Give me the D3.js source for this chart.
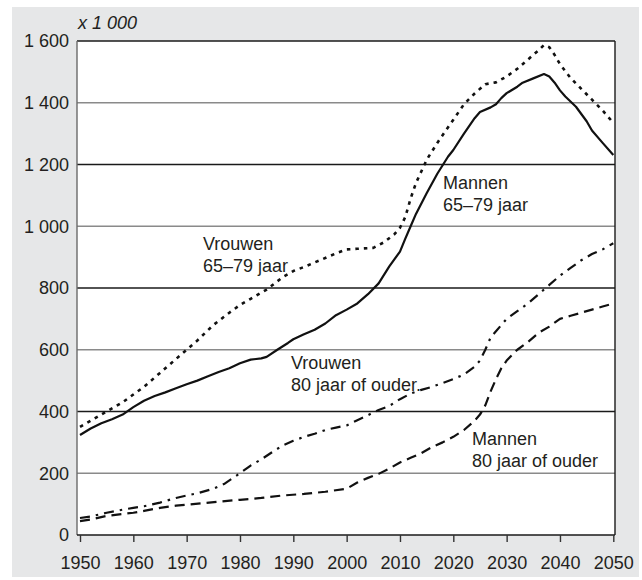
<!DOCTYPE html>
<html>
<head>
<meta charset="utf-8">
<script src="https://cdn.jsdelivr.net/npm/d3@7"></script>
<style>
  html, body { margin: 0; padding: 0; background: #ffffff; }
  svg { display: block; }
  text { font-family: "Liberation Sans", Arial, Helvetica, sans-serif; fill: #231f20; }
</style>
</head>
<body>
<svg id="chart" width="642" height="580"></svg>
<script>
// ---------- data ----------
const xTicks = [1950, 1960, 1970, 1980, 1990, 2000, 2010, 2020, 2030, 2040, 2050];
const yTicks = [0, 200, 400, 600, 800, 1000, 1200, 1400, 1600];
const unitLabel = "x 1 000";

const vrouwen6579Years = [1950,1952,1955,1958,1960,1962,1965,1968,1970,1972,1975,1978,1980,1982,1985,1988,1990,1992,1995,1998,2000,2002,2005,2007,2009,2010,2011,2012,2013,2015,2017,2020,2022,2024,2026,2028,2030,2032,2034,2036,2037,2038,2039,2040,2042,2044,2046,2048,2050];
const vrouwen6579 =      [350, 370, 400, 430, 455, 480, 525, 570, 600, 630, 680, 720, 745, 765, 795, 835, 855, 868, 890, 912, 925, 927, 930, 948, 975, 995,1030,1090,1140,1215,1270,1345,1395,1430,1460,1466,1485,1510,1540,1570,1587,1580,1555,1525,1480,1445,1410,1375,1335];

const mannen6579Years = [1950,1952,1954,1956,1958,1960,1962,1964,1966,1968,1970,1972,1974,1976,1978,1980,1982,1984,1985,1987,1989,1990,1992,1994,1996,1998,2000,2002,2004,2006,2008,2010,2011,2012,2013,2015,2017,2019,2020,2022,2024,2025,2027,2028,2029,2030,2032,2033,2035,2037,2038,2039,2040,2041,2043,2045,2046,2048,2050];
const mannen6579 =      [324, 345, 362, 375, 390, 414, 435, 450, 462, 475, 488, 500, 514, 528, 540, 556, 568, 572, 577, 600, 622, 634, 650, 665, 685, 712, 730, 750, 780, 815, 870, 918, 960,1000,1040,1107,1170,1225,1247,1300,1350,1370,1385,1395,1415,1431,1452,1465,1479,1493,1485,1465,1440,1420,1387,1340,1310,1270,1231];

const vrouwen80Years = [1950,1952,1955,1958,1960,1962,1965,1968,1970,1972,1975,1977,1980,1982,1984,1986,1988,1990,1992,1994,1996,1998,2000,2002,2004,2006,2008,2010,2012,2014,2016,2018,2020,2022,2024,2025,2026,2027,2028,2030,2032,2034,2036,2038,2040,2042,2044,2046,2048,2050];
const vrouwen80 =      [ 55,  60,  72,  82,  88,  93, 105, 120, 128, 135, 150, 165, 200, 225, 245, 268, 290, 305, 318, 328, 340, 348, 355, 372, 388, 405, 418, 440, 458, 470, 480, 492, 505, 520, 545, 565, 600, 640, 660, 700, 725, 750, 780, 810, 840, 865, 890, 910, 925, 945];

const mannen80Years = [1950,1952,1955,1958,1960,1962,1965,1968,1970,1973,1976,1980,1984,1988,1992,1996,2000,2002,2004,2006,2008,2010,2012,2014,2016,2018,2020,2022,2024,2025,2026,2027,2028,2029,2030,2032,2034,2036,2038,2040,2042,2044,2046,2048,2050];
const mannen80 =      [ 45,  50,  62,  68,  72,  78,  88,  95,  98, 103, 108, 114, 120, 128, 133, 140, 150, 170, 185, 198, 215, 235, 250, 265, 285, 300, 318, 340, 370, 390, 420, 465, 505, 540, 565, 600, 625, 655, 675, 700, 710, 720, 730, 740, 750];

const seriesNames = ["Vrouwen 65–79 jaar", "Mannen 65–79 jaar", "Vrouwen 80 jaar of ouder", "Mannen 80 jaar of ouder"];

// ---------- layout ----------
const svg = d3.select("#chart");
const plot = { left: 77, right: 615, top: 41, bottom: 535 };

svg.append("rect").attr("x", 12).attr("y", 7).attr("width", 627).attr("height", 570).attr("fill", "#e6e7e8");
svg.append("rect").attr("x", plot.left).attr("y", plot.top)
   .attr("width", plot.right - plot.left).attr("height", plot.bottom - plot.top).attr("fill", "#ffffff");

const x = d3.scaleLinear().domain([1950, 2050]).range([80, 613.3]);
const y = d3.scaleLinear().domain([0, 1600]).range([plot.bottom, plot.top]);

const nl = d3.formatLocale({ decimal: ",", thousands: " ", grouping: [3], currency: ["", ""] });
const fmt = nl.format(",");

// gridlines (alternating gray / black)
const grid = svg.append("g");
yTicks.filter(v => v > 0 && v < 1600).forEach(v => {
  grid.append("line")
    .attr("x1", plot.left).attr("x2", plot.right)
    .attr("y1", y(v)).attr("y2", y(v))
    .attr("stroke", (v / 200) % 2 === 1 ? "#8a8a8a" : "#1a1a1a")
    .attr("stroke-width", 1.4);
});

// border
svg.append("line").attr("x1", plot.left).attr("x2", plot.right).attr("y1", plot.top).attr("y2", plot.top)
   .attr("stroke", "#1a1a1a").attr("stroke-width", 1.4);
svg.append("line").attr("x1", plot.right).attr("x2", plot.right).attr("y1", plot.top).attr("y2", plot.bottom)
   .attr("stroke", "#1a1a1a").attr("stroke-width", 1.4);
svg.append("line").attr("x1", plot.left).attr("x2", plot.left).attr("y1", plot.top).attr("y2", plot.bottom)
   .attr("stroke", "#6a6a6a").attr("stroke-width", 1.4);
svg.append("line").attr("x1", plot.left).attr("x2", plot.right).attr("y1", plot.bottom).attr("y2", plot.bottom)
   .attr("stroke", "#1a1a1a").attr("stroke-width", 1.4);

// x axis
const xAxis = svg.append("g").attr("transform", `translate(0,${plot.bottom})`)
  .call(d3.axisBottom(x).tickValues(xTicks).tickFormat(d3.format("d")).tickSize(7).tickPadding(14));
xAxis.select(".domain").remove();
xAxis.selectAll(".tick line").attr("stroke", "#333").attr("stroke-width", 1.4);
xAxis.selectAll("text").attr("font-size", 18).attr("fill", "#231f20")
  .attr("font-family", '"Liberation Sans", Arial, sans-serif');

// y axis labels
const yAxis = svg.append("g").attr("transform", `translate(${plot.left},0)`)
  .call(d3.axisLeft(y).tickValues(yTicks).tickFormat(fmt).tickSize(0).tickPadding(8));
yAxis.select(".domain").remove();
yAxis.selectAll("text").attr("font-size", 18).attr("fill", "#231f20")
  .attr("font-family", '"Liberation Sans", Arial, sans-serif');

svg.append("text").attr("x", 78).attr("y", 29).attr("font-size", 18).attr("font-style", "italic").text(unitLabel);

// lines
const line = d3.line().x(d => x(d[0])).y(d => y(d[1]));
const zip = (a, b) => a.map((v, i) => [v, b[i]]);
const g = svg.append("g").attr("fill", "none").attr("stroke", "#111").attr("stroke-linejoin", "round");

g.append("path").datum(zip(vrouwen6579Years, vrouwen6579)).attr("d", line)
  .attr("stroke-width", 2.6).attr("stroke-dasharray", "3.5,5");
g.append("path").datum(zip(mannen6579Years, mannen6579)).attr("d", line)
  .attr("stroke-width", 2.2);
g.append("path").datum(zip(vrouwen80Years, vrouwen80)).attr("d", line)
  .attr("stroke-width", 2.2).attr("stroke-dasharray", "10,6,2.5,6");
g.append("path").datum(zip(mannen80Years, mannen80)).attr("d", line)
  .attr("stroke-width", 2.2).attr("stroke-dasharray", "10,6");

// labels
const labels = [
  { lines: ["Vrouwen", "65–79 jaar"], x: 203, y: 250 },
  { lines: ["Mannen", "65–79 jaar"], x: 443, y: 189 },
  { lines: ["Vrouwen", "80 jaar of ouder."], x: 291, y: 369 },
  { lines: ["Mannen", "80 jaar of ouder"], x: 472, y: 445 }
];
labels.forEach(l => {
  const t = svg.append("text").attr("x", l.x).attr("y", l.y).attr("font-size", 18);
  l.lines.forEach((s, i) => t.append("tspan").attr("x", l.x).attr("dy", i === 0 ? 0 : 22).text(s));
});
</script>
</body>
</html>
